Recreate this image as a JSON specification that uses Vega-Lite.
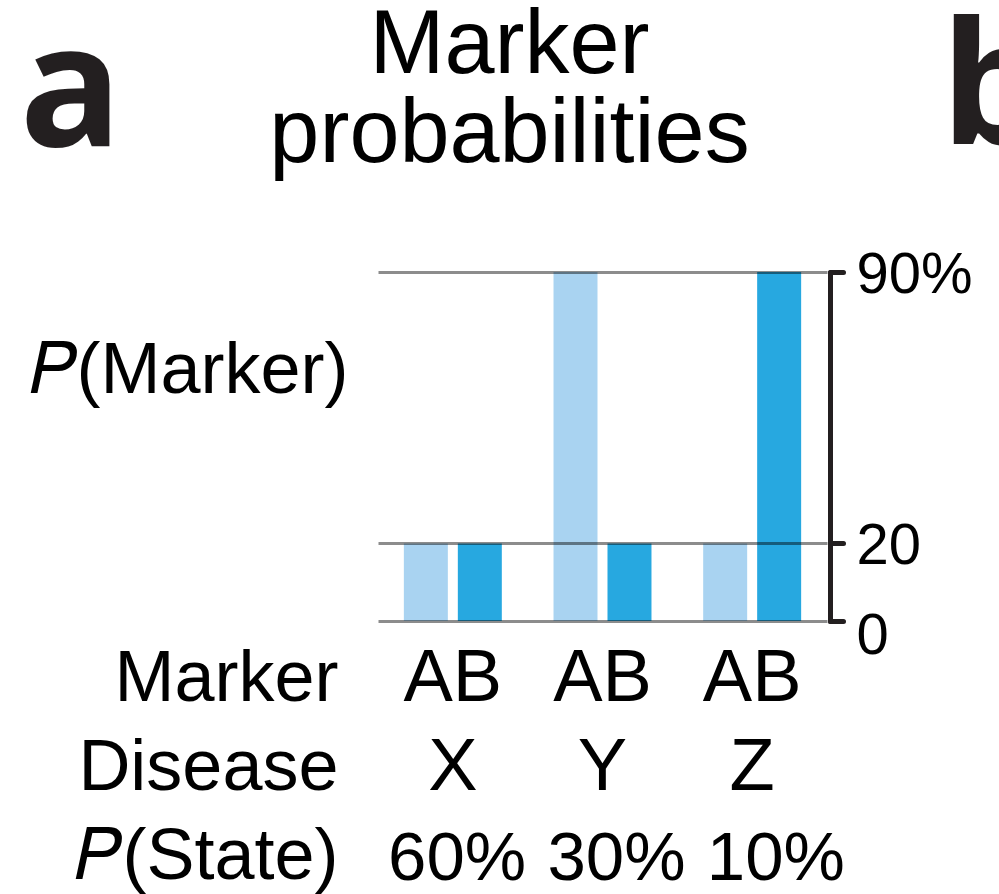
{
  "$schema": "https://vega.github.io/schema/vega-lite/v6.json",
  "width": 449,
  "height": 349,
  "autosize": {"type": "none"},
  "padding": {"left": 378, "top": 272, "right": 172, "bottom": 273},
  "background": "white",
  "title": {
    "text": ["Marker", "probabilities"],
    "frame": "group",
    "anchor": "middle",
    "dx": -93,
    "offset": -245,
    "baseline": "alphabetic",
    "lineHeight": 89,
    "font": "Liberation Sans",
    "fontSize": 90,
    "fontWeight": "normal",
    "color": "black"
  },
  "data": {
    "values": [
      {"disease": "X", "pstate": 60, "marker": "A", "p": 20},
      {"disease": "X", "pstate": 60, "marker": "B", "p": 20},
      {"disease": "Y", "pstate": 30, "marker": "A", "p": 90},
      {"disease": "Y", "pstate": 30, "marker": "B", "p": 20},
      {"disease": "Z", "pstate": 10, "marker": "A", "p": 20},
      {"disease": "Z", "pstate": 10, "marker": "B", "p": 90}
    ]
  },
  "layer": [
    {
      "mark": {"type": "bar"},
      "encoding": {
        "x": {
          "field": "disease",
          "type": "nominal",
          "sort": null,
          "scale": {"paddingInner": 0, "paddingOuter": 0},
          "axis": {
            "orient": "bottom",
            "ticks": false,
            "tickSize": 0,
            "domain": false,
            "labelAngle": 0,
            "labelExpr": "['AB', datum.label]",
            "labelBaseline": "alphabetic",
            "labelPadding": 79,
            "labelLineHeight": 89,
            "labelFont": "Liberation Sans",
            "labelFontSize": 74,
            "labelColor": "black",
            "title": ["Marker", "Disease", "𝑃(State)"],
            "titleX": -40,
            "titleY": 79,
            "titleAlign": "right",
            "titleBaseline": "alphabetic",
            "titleLineHeight": 89,
            "titleFont": "Liberation Sans",
            "titleFontSize": 72,
            "titleFontWeight": "normal",
            "titleColor": "black"
          }
        },
        "xOffset": {
          "field": "marker",
          "type": "nominal",
          "scale": {"paddingInner": 0.185, "paddingOuter": 0.479}
        },
        "y": {
          "field": "p",
          "type": "quantitative",
          "scale": {"domain": [0, 90], "nice": false},
          "axis": {
            "orient": "right",
            "values": [0, 20, 90],
            "offset": 3,
            "zindex": 1,
            "grid": true,
            "gridColor": "black",
            "gridOpacity": 0.45,
            "gridWidth": 3,
            "domainColor": "#231f20",
            "domainWidth": 5,
            "domainCap": "round",
            "tickColor": "#231f20",
            "tickWidth": 5,
            "tickSize": 13,
            "tickCap": "round",
            "labelPadding": 13,
            "labelFont": "Liberation Sans",
            "labelFontSize": 58,
            "labelColor": "black",
            "labelBaseline": "middle",
            "labelOffset": {"condition": {"test": "datum.value == 0", "value": 15}, "value": 3},
            "labelExpr": "datum.value == 90 ? '90%' : datum.label",
            "title": "b",
            "titleAngle": 0,
            "titleX": 110,
            "titleY": -129,
            "titleAlign": "left",
            "titleBaseline": "alphabetic",
            "titleFont": "Open Sans",
            "titleFontSize": 170,
            "titleFontWeight": "bold",
            "titleColor": "#231f20"
          }
        },
        "color": {
          "field": "marker",
          "type": "nominal",
          "scale": {"domain": ["A", "B"], "range": ["#a9d3f1", "#27a8e0"]},
          "legend": null
        }
      }
    },
    {
      "mark": {"type": "point", "opacity": 0},
      "encoding": {
        "x": {
          "field": "pstate",
          "type": "nominal",
          "sort": null,
          "scale": {"paddingInner": 0, "paddingOuter": 0, "range": [-1, 477]},
          "axis": {
            "orient": "bottom",
            "ticks": false,
            "tickSize": 0,
            "domain": false,
            "labelAngle": 0,
            "labelExpr": "datum.label + '%'",
            "labelBaseline": "alphabetic",
            "labelPadding": 258,
            "labelFont": "Liberation Sans",
            "labelFontSize": 69,
            "labelColor": "black",
            "title": "a",
            "titleX": -359,
            "titleY": -476,
            "titleAlign": "left",
            "titleBaseline": "alphabetic",
            "titleFont": "Open Sans",
            "titleFontSize": 170,
            "titleFontWeight": "bold",
            "titleColor": "#231f20"
          }
        },
        "y": {
          "field": "p",
          "type": "quantitative",
          "axis": {
            "orient": "left",
            "grid": false,
            "domain": false,
            "ticks": false,
            "labels": false,
            "title": "𝑃(Marker)",
            "titleAngle": 0,
            "titleX": -30,
            "titleY": 120,
            "titleAlign": "right",
            "titleBaseline": "alphabetic",
            "titleFont": "Liberation Sans",
            "titleFontSize": 72,
            "titleFontWeight": "normal",
            "titleColor": "black"
          }
        }
      }
    }
  ],
  "resolve": {
    "scale": {"x": "independent"},
    "axis": {"x": "independent", "y": "independent"}
  },
  "config": {"view": {"stroke": null}}
}
